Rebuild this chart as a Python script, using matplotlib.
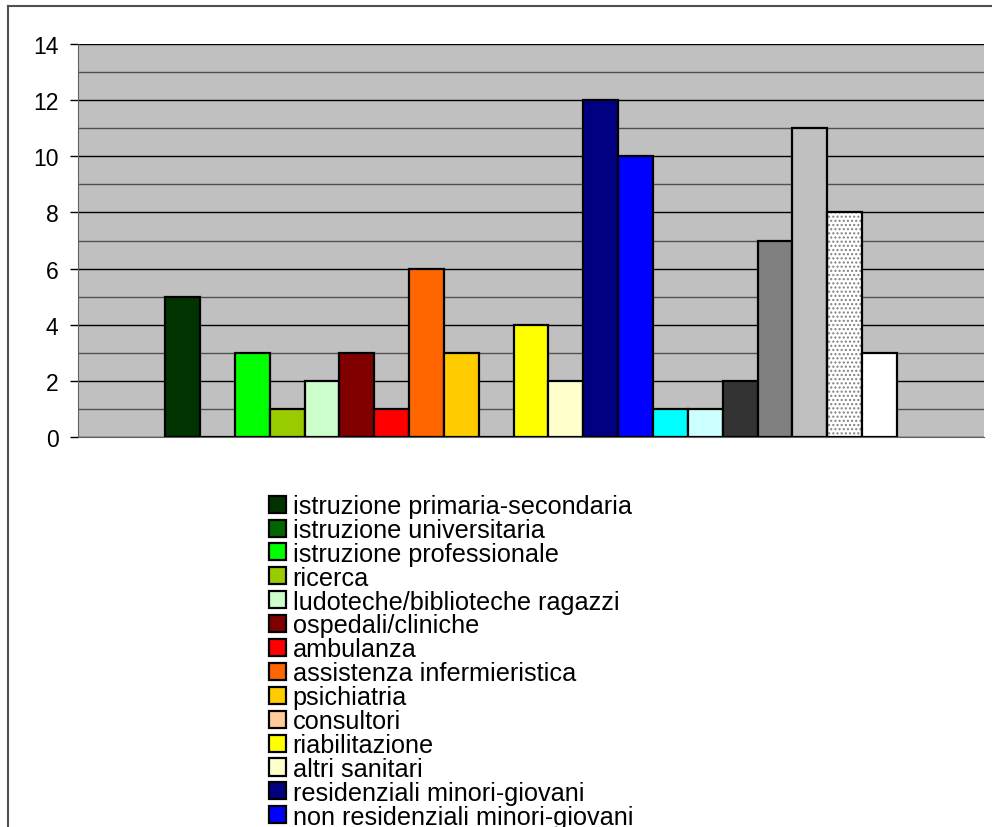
import matplotlib
matplotlib.use("Agg")
import matplotlib.pyplot as plt
from matplotlib.lines import Line2D
from matplotlib.ticker import MultipleLocator
import numpy as np

plt.rcParams["font.family"] = ["Liberation Sans", "DejaVu Sans"]

# one category, 21 series (legend is cut off at the bottom of the picture)
labels = [
    "istruzione primaria-secondaria",
    "istruzione universitaria",
    "istruzione professionale",
    "ricerca",
    "ludoteche/biblioteche ragazzi",
    "ospedali/cliniche",
    "ambulanza",
    "assistenza infermieristica",
    "psichiatria",
    "consultori",
    "riabilitazione",
    "altri sanitari",
    "residenziali minori-giovani",
    "non residenziali minori-giovani",
    "residenziali disabili minori-giovani",
    "non residenziali disabili",
    "residenziali adulti",
    "non residenziali adulti",
    "servizi sociali territoriali",
    "altri servizi sociali",
    "altro",
]
values = [5, 0, 3, 1, 2, 3, 1, 6, 3, 0, 4, 2, 12, 10, 1, 1, 2, 7, 11, 8, 3]
colors = ["#003300", "#006600", "#00FF00", "#99CC00", "#CCFFCC", "#800000",
          "#FF0000", "#FF6600", "#FFCC00", "#FFCC99", "#FFFF00", "#FFFFCC",
          "#000080", "#0000FF", "#00FFFF", "#CCFFFF", "#333333", "#808080",
          "#C0C0C0", "#FFFFFF", "#FFFFFF"]
hatches = [None] * 19 + ["...."] + [None]

W, H = 992, 828
fig = plt.figure(figsize=(W / 100, H / 100), dpi=100)
ax = fig.add_axes([78 / W, 1 - 438 / H, 906 / W, (438 - 45) / H])
ax.set_facecolor("#C0C0C0")

x = np.arange(len(values))
handles = []
for i, (v, c, h) in enumerate(zip(values, colors, hatches)):
    if h:
        # dotted fill drawn separately so the dots can be grey
        ax.bar(x[i], v, width=1.0, color=c, edgecolor="#808080",
               hatch=h, linewidth=0, zorder=2)
        b = ax.bar(x[i], v, width=1.0, facecolor="none", edgecolor="black",
                   linewidth=1.6, zorder=3)
    else:
        b = ax.bar(x[i], v, width=1.0, color=c, edgecolor="black",
                   linewidth=1.6, zorder=3)
    b.patches[0].set_label(labels[i])
    handles.append(b.patches[0])

ax.set_xlim(-3, 23)
ax.set_ylim(0, 14)
ax.yaxis.set_major_locator(MultipleLocator(2))
ax.yaxis.set_minor_locator(MultipleLocator(1))
ax.grid(True, which="major", axis="y", color="black", linewidth=1.0, zorder=1)
ax.grid(True, which="minor", axis="y", color="#505050", linewidth=1.0, zorder=1)
ax.set_axisbelow(True)
ax.set_xticks([])
ax.tick_params(axis="y", which="major", direction="out", length=6,
               width=1, labelsize=16.5, pad=8)
ax.tick_params(axis="y", which="minor", length=0)
for s in ["right", "top"]:
    ax.spines[s].set_visible(False)
ax.spines["left"].set_color("#606060")
ax.spines["bottom"].set_color("#606060")

# legend, bottom rows fall outside the picture
leg = fig.legend(handles=handles, loc="upper left",
                 bbox_to_anchor=(269 / W, 1 - 495 / H),
                 frameon=False, fontsize=18.2, borderpad=0, borderaxespad=0,
                 handlelength=0.66, handleheight=0.66, handletextpad=0.27,
                 labelspacing=-0.004)

# outer chart frame (only left and top edges are inside the crop)
fig.add_artist(Line2D([8 / W, 8 / W], [0, 1 - 7 / H], color="#505050",
                      linewidth=1.5, transform=fig.transFigure))
fig.add_artist(Line2D([8 / W, 1], [1 - 7 / H, 1 - 7 / H], color="#505050",
                      linewidth=1.5, transform=fig.transFigure))

fig.savefig("out.png", dpi=100)
